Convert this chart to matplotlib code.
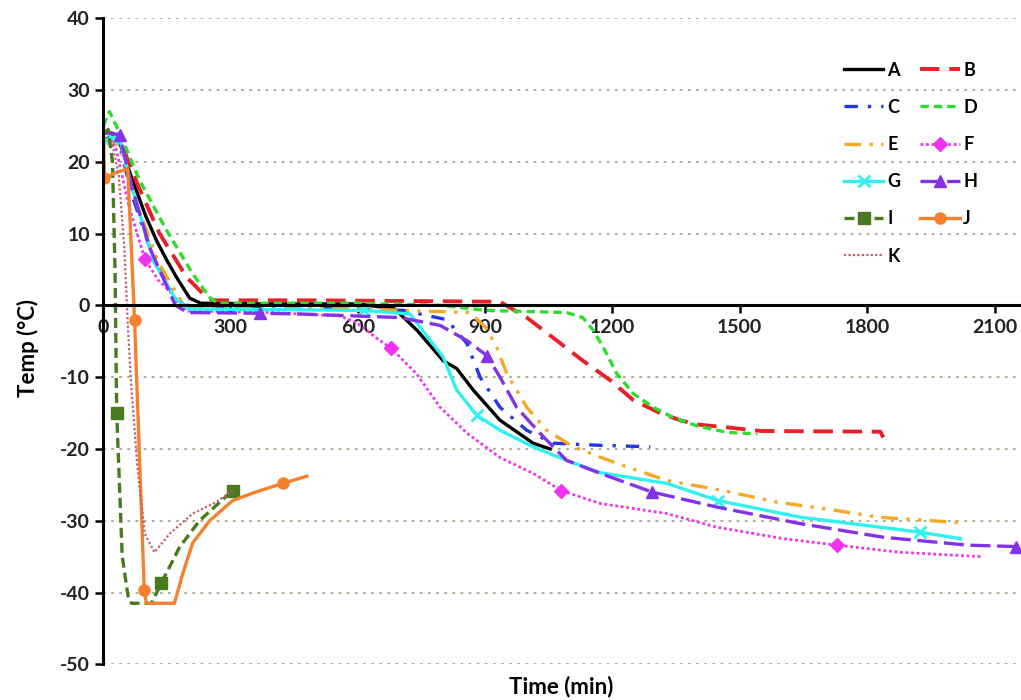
import numpy as np
import matplotlib
matplotlib.use('Agg')
from matplotlib import pyplot as plt

plt.rcParams['font.family'] = ['Lato', 'DejaVu Sans']
plt.rcParams['font.weight'] = 'bold'
plt.rcParams['axes.unicode_minus'] = False

# curve data (time in min, temp in C)
A_x = [0, 20, 40, 67, 100, 126, 150, 173, 204, 230, 400, 600, 687, 740, 801, 833, 872, 935, 1013, 1053]
A_y = [23, 23.5, 22.5, 17.8, 12.5, 9, 6.3, 3.9, 1, 0.3, 0.2, 0.2, -0.5, -3.5, -7.7, -8.8, -11.8, -16, -19.2, -20]

B_x = [0, 20, 40, 80, 133, 197, 244, 260, 500, 935, 998, 1060, 1130, 1194, 1249, 1312, 1359, 1400, 1470, 1550, 1831, 1838]
B_y = [24, 24, 23, 17, 10, 3.9, 1.1, 0.7, 0.7, 0.5, -1.7, -4.5, -7.7, -10.4, -13.2, -15, -16, -16.6, -17, -17.5, -17.6, -18.4]

C_x = [0, 20, 40, 70, 110, 160, 190, 400, 707, 810, 857, 888, 935, 998, 1060, 1171, 1289]
C_y = [23, 23, 22, 15, 8, 2, 0, -0.3, -0.7, -2, -5.3, -10, -14.2, -17.4, -19.2, -19.5, -19.7]

D_x = [0, 15, 39, 86, 150, 211, 251, 270, 600, 800, 900, 1092, 1130, 1155, 1178, 1210, 1249, 1296, 1342, 1400, 1470, 1541]
D_y = [25, 27, 24, 17.4, 10.4, 4.4, 1.1, 0.3, 0.3, 0, -0.7, -1, -1.7, -3.5, -5.8, -9.5, -12.3, -14.2, -15.6, -16.8, -17.7, -17.9]

E_x = [0, 20, 40, 80, 130, 180, 210, 500, 864, 900, 927, 951, 998, 1045, 1107, 1210, 1328, 1461, 1587, 1720, 1824, 2030]
E_y = [23, 23, 22, 14, 6, 1, -0.3, -0.3, -1, -3, -5.8, -9.5, -14.2, -17.4, -19.7, -22, -24.4, -25.8, -27.4, -28.5, -29.5, -30.3]

F_x = [0, 15, 30, 60, 98, 130, 157, 173, 200, 400, 560, 600, 645, 679, 738, 794, 857, 935, 1013, 1079, 1171, 1328, 1446, 1602, 1729, 1878, 2067]
F_y = [23, 23, 22, 14, 6.5, 3.5, 2, 0.3, -0.8, -1, -1.5, -2.5, -4.6, -6, -9.5, -14.2, -17.8, -21.2, -23.4, -25.8, -27.6, -29, -30.9, -32.5, -33.4, -34.4, -35]

G_x = [0, 20, 40, 70, 120, 170, 200, 614, 723, 801, 833, 880, 935, 1013, 1092, 1171, 1328, 1449, 1642, 1925, 2020]
G_y = [23, 23.3, 23, 16, 6, 1, -0.5, -0.7, -1.2, -7.2, -11.8, -15.3, -17.4, -19.7, -21.6, -23.3, -24.8, -27.2, -29.5, -31.6, -32.5]

H_x = [0, 20, 39, 70, 110, 170, 200, 369, 462, 700, 794, 857, 904, 935, 974, 1029, 1092, 1171, 1293, 1446, 1642, 1838, 2036, 2150]
H_y = [24, 24, 23.7, 16, 8, 0, -1, -1.1, -1.2, -1.7, -2.8, -4.9, -7, -10, -14.2, -17.8, -21.6, -23.4, -26, -28.1, -30.4, -32.3, -33.4, -33.6]

I_x = [0, 12, 22, 28, 32, 45, 60, 67, 114, 137, 180, 227, 305]
I_y = [24, 24.5, 20, 5, -15, -35, -41, -41.5, -41.5, -38.7, -33.7, -30, -25.8]

J_x = [0, 3, 30, 58, 74, 97, 102, 168, 188, 211, 251, 305, 360, 423, 480]
J_y = [27, 17.7, 18.5, 19, -2, -39.7, -41.5, -41.5, -37.3, -33.1, -30, -27.2, -26, -24.8, -23.8]

K_x = [20, 37, 50, 58, 65, 80, 98, 121, 157, 211, 267, 305]
K_y = [23, 18, 8, -2.5, -10, -22, -31.8, -34.4, -31.8, -29, -27.4, -25.8]

fig = plt.figure(figsize=(10.21, 7.0), dpi=100)
ax = fig.add_axes([0.101, 0.051, 0.898, 0.923])

lw = 2.4
lines = {}
lines['A'] = ax.plot(A_x, A_y, color='#000000', lw=lw, label='A')[0]
lines['B'] = ax.plot(B_x, B_y, color='#e8202a', lw=2.8, ls=(0, (5, 2.5)), label='B')[0]
lines['C'] = ax.plot(C_x, C_y, color='#2438e0', lw=lw, ls=(0, (4, 3, 1, 3)), label='C')[0]
lines['D'] = ax.plot(D_x, D_y, color='#2edc2e', lw=lw, ls=(0, (2.5, 1.5)), label='D')[0]
lines['E'] = ax.plot(E_x, E_y, color='#f7a823', lw=lw, ls=(0, (5, 2.5, 1, 2.5, 1, 2.5)), label='E')[0]
lines['F'] = ax.plot(F_x, F_y, color='#f032f0', lw=2.0, ls=(0, (1, 1)), marker='D', ms=7,
                     markevery=[4, 13, 19, 24], label='F')[0]
lines['G'] = ax.plot(G_x, G_y, color='#30f0f0', lw=lw, marker='x', ms=9, mew=2,
                     markevery=[1, 7, 11, 17, 19], label='G')[0]
lines['H'] = ax.plot(H_x, H_y, color='#8432e8', lw=lw, ls=(0, (6, 2)), marker='^', ms=8,
                     markevery=[2, 7, 12, 18, 23], label='H')[0]
lines['I'] = ax.plot(I_x, I_y, color='#4a7a1e', lw=lw, ls=(0, (3, 1.5)), marker='s', ms=8,
                     markevery=[4, 9, 12], label='I')[0]
lines['J'] = ax.plot(J_x, J_y, color='#f5812f', lw=lw, marker='o', ms=8,
                     markevery=[1, 4, 5, 13], label='J')[0]
lines['K'] = ax.plot(K_x, K_y, color='#c06070', lw=1.6, ls=(0, (1, 1)), label='K')[0]

ax.set_xlim(0, 2160)
ax.set_ylim(-50, 40)
ax.set_xticks(np.arange(0, 2101, 300))
ax.set_yticks(np.arange(-50, 41, 10))

# horizontal dotted grid (not at zero, where the axis sits)
for yv in np.arange(-50, 41, 10):
    if yv != 0:
        ax.axhline(yv, color='#a8a88c', lw=1.3, ls=(0, (1.5, 3)), zorder=0)

for s in ['top', 'right']:
    ax.spines[s].set_visible(False)
ax.spines['bottom'].set_position(('data', 0))
ax.spines['bottom'].set_linewidth(2.2)
ax.spines['left'].set_linewidth(2.2)
ax.spines['left'].set_bounds(-50, 40)
ax.tick_params(axis='both', direction='out', length=6, width=1.8, labelsize=14,
               labelcolor='#222222')

ax.set_xlabel('Time (min)', fontsize=16, fontweight='bold')
ax.xaxis.set_label_coords(0.5, -0.018)
ax.set_ylabel('Temp (°C)', fontsize=16, fontweight='bold')
ax.yaxis.set_label_coords(-0.07, 0.49)

order = ['A', 'C', 'E', 'G', 'I', 'K', 'B', 'D', 'F', 'H', 'J']
ax.legend([lines[k] for k in order], order, ncol=2, loc='upper left',
          bbox_to_anchor=(0.79, 0.958), frameon=False, handlelength=2.2,
          labelspacing=1.12, columnspacing=1.1, handletextpad=0.2,
          prop={'weight': 'bold', 'size': 13})

fig.savefig('out.png', dpi=100)
